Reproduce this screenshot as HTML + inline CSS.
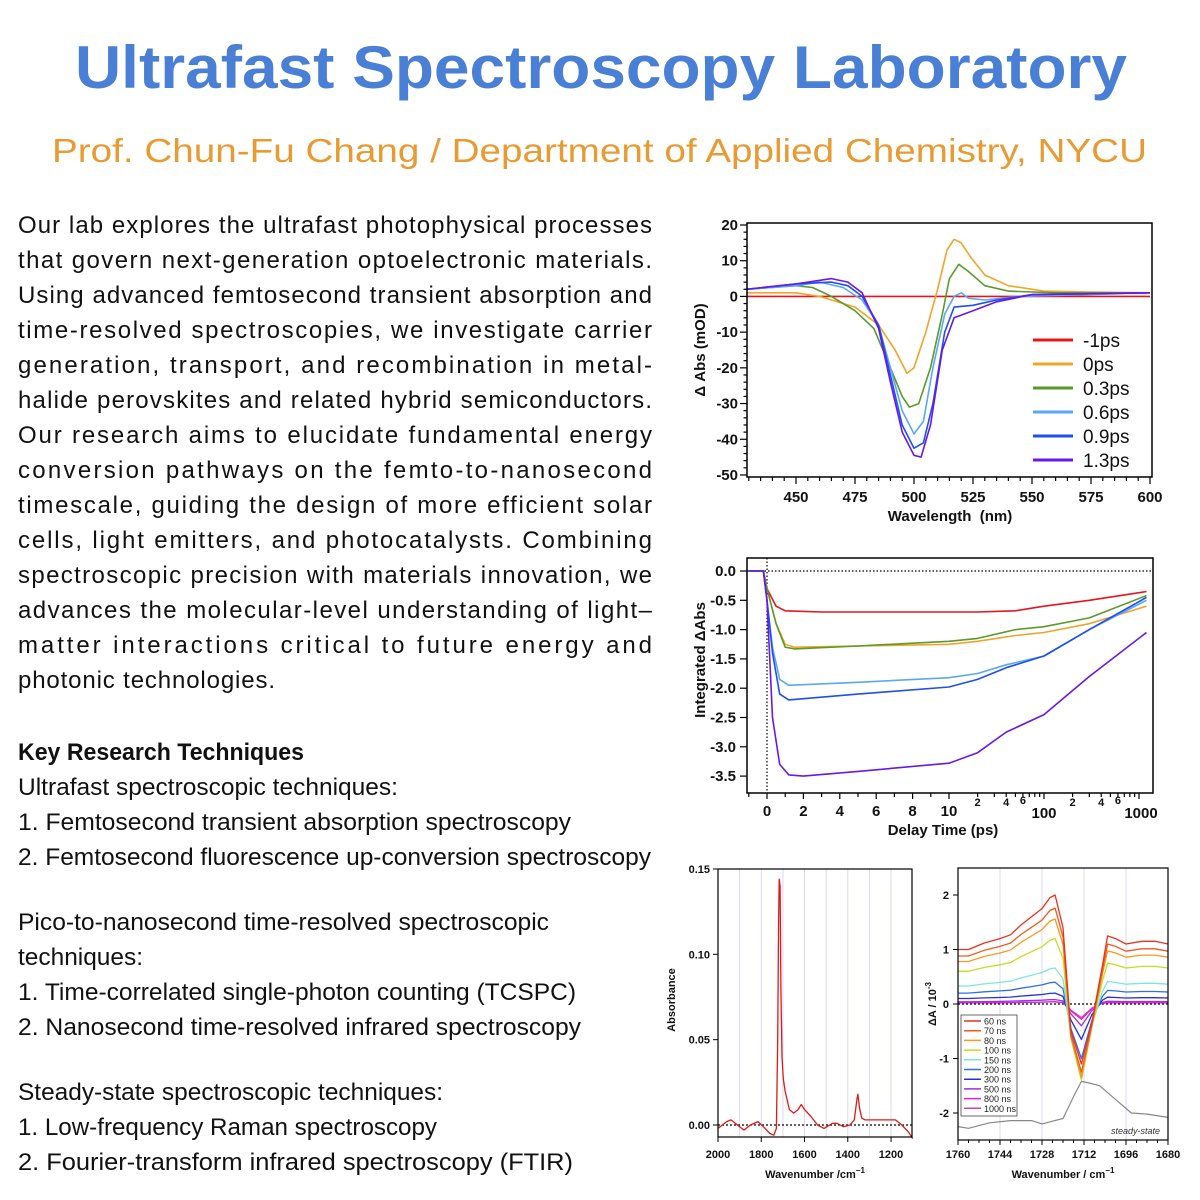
<!DOCTYPE html>
<html><head><meta charset="utf-8">
<style>
html,body{margin:0;padding:0;background:#fff;}
svg{display:block;}
.b{font-family:"Liberation Sans",Arial,sans-serif;}
</style></head>
<body>
<svg id="s" width="1200" height="1200" xmlns="http://www.w3.org/2000/svg" class="b">
<text x="75" y="88" font-size="60" font-weight="bold" fill="#4a7fd6" textLength="1052" lengthAdjust="spacingAndGlyphs">Ultrafast Spectroscopy Laboratory</text>
<text x="52" y="162" font-size="33" fill="#e89b32" textLength="1095" lengthAdjust="spacingAndGlyphs">Prof. Chun-Fu Chang / Department of Applied Chemistry, NYCU</text>
<g font-size="24" fill="#111">
<text x="18" y="233" textLength="634" lengthAdjust="spacing">Our lab explores the ultrafast photophysical processes</text>
<text x="18" y="268" textLength="634" lengthAdjust="spacing">that govern next-generation optoelectronic materials.</text>
<text x="18" y="303" textLength="634" lengthAdjust="spacing">Using advanced femtosecond transient absorption and</text>
<text x="18" y="338" textLength="634" lengthAdjust="spacing">time-resolved spectroscopies, we investigate carrier</text>
<text x="18" y="373" textLength="634" lengthAdjust="spacing">generation, transport, and recombination in metal-</text>
<text x="18" y="408" textLength="634" lengthAdjust="spacing">halide perovskites and related hybrid semiconductors.</text>
<text x="18" y="443" textLength="634" lengthAdjust="spacing">Our research aims to elucidate fundamental energy</text>
<text x="18" y="478" textLength="634" lengthAdjust="spacing">conversion pathways on the femto-to-nanosecond</text>
<text x="18" y="513" textLength="634" lengthAdjust="spacing">timescale, guiding the design of more efficient solar</text>
<text x="18" y="548" textLength="634" lengthAdjust="spacing">cells, light emitters, and photocatalysts. Combining</text>
<text x="18" y="583" textLength="634" lengthAdjust="spacing">spectroscopic precision with materials innovation, we</text>
<text x="18" y="618" textLength="634" lengthAdjust="spacing">advances the molecular-level understanding of light–</text>
<text x="18" y="653" textLength="634" lengthAdjust="spacing">matter interactions critical to future energy and</text>
<text x="18" y="688" textLength="257" lengthAdjust="spacing">photonic technologies.</text>
<text x="18" y="760" font-weight="bold" textLength="286" lengthAdjust="spacingAndGlyphs">Key Research Techniques</text>
<text x="18" y="795" textLength="380" lengthAdjust="spacingAndGlyphs">Ultrafast spectroscopic techniques:</text>
<text x="18" y="830" textLength="553" lengthAdjust="spacingAndGlyphs">1. Femtosecond transient absorption spectroscopy</text>
<text x="18" y="865" textLength="633" lengthAdjust="spacingAndGlyphs">2. Femtosecond fluorescence up-conversion spectroscopy</text>
<text x="18" y="930" textLength="531" lengthAdjust="spacingAndGlyphs">Pico-to-nanosecond time-resolved spectroscopic</text>
<text x="18" y="965" textLength="125" lengthAdjust="spacingAndGlyphs">techniques:</text>
<text x="18" y="1000" textLength="558" lengthAdjust="spacingAndGlyphs">1. Time-correlated single-photon counting (TCSPC)</text>
<text x="18" y="1035" textLength="563" lengthAdjust="spacingAndGlyphs">2. Nanosecond time-resolved infrared spectroscopy</text>
<text x="18" y="1100" textLength="425" lengthAdjust="spacingAndGlyphs">Steady-state spectroscopic techniques:</text>
<text x="18" y="1135" textLength="419" lengthAdjust="spacingAndGlyphs">1. Low-frequency Raman spectroscopy</text>
<text x="18" y="1170" textLength="555" lengthAdjust="spacingAndGlyphs">2. Fourier-transform infrared spectroscopy (FTIR)</text>
</g>
<g id="g"></g>
</svg>
<script>
var G=document.getElementById('g'),h='';
function P(pts,fx,fy,c,w,extra){var d='';pts.forEach(function(p,i){d+=(i?'L':'M')+fx(p[0]).toFixed(1)+' '+fy(p[1]).toFixed(1);});h+='<path d="'+d+'" fill="none" stroke="'+c+'" stroke-width="'+(w||1.6)+'" stroke-linejoin="round" '+(extra||'')+'/>';}
function L(x1,y1,x2,y2,c,w,extra){h+='<line x1="'+x1+'" y1="'+y1+'" x2="'+x2+'" y2="'+y2+'" stroke="'+(c||'#000')+'" stroke-width="'+(w||1)+'" '+(extra||'')+'/>';}
function T(x,y,s,fs,anc,extra){h+='<text x="'+x+'" y="'+y+'" font-size="'+fs+'" text-anchor="'+(anc||'middle')+'" '+(extra||'')+'>'+s+'</text>';}
function R(x1,y1,x2,y2,w){h+='<rect x="'+x1+'" y="'+y1+'" width="'+(x2-x1)+'" height="'+(y2-y1)+'" fill="none" stroke="#000" stroke-width="'+(w||1.5)+'"/>';}
var fx1=function(w){return 796+(w-450)*2.36;},fy1=function(v){return 225+(20-v)*3.571;};
var C=['#e8141a','#f0a42a','#5a9a2a','#5aa8f5','#1e4ef0','#6a18e8'];
var S1=[
[[429,0],[600,0]],
[[429,1],[450,1],[460,0],[475,-3],[485,-8],[492,-15],[497,-21.5],[500,-20],[505,-10],[510,2],[514,13],[517,16],[520,15],[524,11],[530,6],[540,3],[555,1.5],[575,1.2],[600,1]],
[[429,2],[450,3],[457,2.5],[465,0],[475,-4],[483,-9],[490,-20],[495,-28],[498,-31],[502,-30],[507,-20],[512,-5],[515,5],[519,9],[523,7],[530,3],[540,1.5],[560,1],[600,1]],
[[429,2],[450,3],[460,4],[470,2.5],[478,-1],[485,-8],[490,-20],[495,-32],[500,-38.5],[504,-35],[508,-20],[513,-5],[517,0],[520,1],[523,-0.5],[530,-1],[545,0],[600,1]],
[[429,2],[450,3.5],[465,4],[472,3],[478,0],[485,-8],[490,-22],[495,-36],[500,-42.5],[504,-41],[508,-30],[513,-10],[517,-3],[525,-2.5],[535,-1],[550,0.5],[600,1]],
[[429,2],[450,3.5],[465,5],[472,4],[478,1],[485,-9],[490,-24],[495,-38],[500,-44.5],[503,-45],[507,-36],[512,-15],[517,-6],[525,-4],[535,-1.5],[550,0.5],[600,1]]];
S1.forEach(function(s,i){P(s,fx1,fy1,C[i],1.6);});
R(747,223,1152,477);
h+='<g font-weight="bold" fill="#111">';
for(var v=-50;v<=20;v+=2){var y=fy1(v);L(747,y,v%10==0?740:743.5,y,'#000',1.2);}
for(v=-50;v<=20;v+=10)T(738,fy1(v)+5,v,15,'end');
for(var w=430;w<=600;w+=5){var x=fx1(w);L(x,477,x,w%25==0?484:481,'#000',1.2);}
for(w=450;w<=600;w+=25)T(fx1(w),502,w,15);
T(950,521,'Wavelength&#160;&#160;(nm)',15);
T(0,0,'Δ Abs (mOD)',15,'middle','transform="translate(705,350) rotate(-90)"');
var lab=['-1ps','0ps','0.3ps','0.6ps','0.9ps','1.3ps'];
h+='</g>';
lab.forEach(function(l,i){var y=340+24*i;L(1033,y,1073,y,C[i],3);T(1083,y+7,l,19,'start','fill="#111"');});
var fx2=function(t){return t<=10?767+18.2*t:949+95*Math.log10(t/10);},fy2=function(v){return 571-58.6*v;};
var S2=[
[[-1,0],[-0.2,0],[0,-0.3],[0.5,-0.6],[1,-0.68],[3,-0.7],[10,-0.7],[20,-0.7],[50,-0.68],[100,-0.6],[300,-0.5],[1200,-0.35]],
[[-1,0],[-0.2,0],[0,-0.3],[0.5,-0.9],[1,-1.25],[1.5,-1.3],[5,-1.28],[10,-1.25],[20,-1.2],[50,-1.1],[100,-1.05],[300,-0.9],[1200,-0.6]],
[[-1,0],[-0.2,0],[0,-0.3],[0.5,-0.9],[1,-1.3],[1.5,-1.33],[5,-1.28],[10,-1.2],[20,-1.15],[50,-1.0],[100,-0.95],[300,-0.8],[1200,-0.42]],
[[-1,0],[-0.2,0],[0,-0.5],[0.3,-1.3],[0.7,-1.85],[1.2,-1.95],[5,-1.9],[10,-1.82],[20,-1.75],[40,-1.6],[100,-1.45],[300,-1.0],[1200,-0.5]],
[[-1,0],[-0.2,0],[0,-0.5],[0.3,-1.4],[0.7,-2.1],[1.2,-2.2],[5,-2.1],[10,-1.98],[20,-1.85],[40,-1.65],[100,-1.45],[300,-1.0],[1200,-0.45]],
[[-1,0],[-0.2,0],[0,-0.5],[0.3,-2.5],[0.7,-3.3],[1.2,-3.48],[2,-3.5],[5,-3.42],[10,-3.28],[20,-3.1],[40,-2.75],[100,-2.45],[300,-1.8],[1200,-1.05]]];
L(747,571,1153,571,'#000',1.2,'stroke-dasharray="1.5,2"');
L(767,558,767,793,'#000',1.2,'stroke-dasharray="1.5,2"');
S2.forEach(function(s,i){P(s,fx2,fy2,C[i],1.6);});
R(747,558,1153,793);
h+='<g font-weight="bold" fill="#111">';
for(v=0;v>=-3.5;v-=0.5){var y=fy2(v);L(747,y,740,y,'#000',1.2);T(736,y+5,v.toFixed(1),15,'end');}
for(var t=-1;t<=10;t++){var x=fx2(t);L(x,793,x,t%2==0?799:797,'#000',1.2);}
for(t=0;t<=10;t+=2)T(fx2(t),816,t,15);
[20,30,40,50,60,70,80,90,100,200,300,400,500,600,700,800,900,1000].forEach(function(t){var x=fx2(t);L(x,793,x,(t==100||t==1000)?799:797,'#000',1.2);});
T(fx2(20),806,'2',11);T(fx2(40),806,'4',11);T(fx2(60),804,'6',11);T(fx2(200),806,'2',11);T(fx2(400),806,'4',11);T(fx2(600),804,'6',11);
T(fx2(100),818,'100',15);T(fx2(1000)+2,818,'1000',15);
T(943,835,'Delay Time (ps)',15);
T(0,0,'Integrated ΔAbs',15,'middle','transform="translate(705,660) rotate(-90)"');
h+='</g>';
var fx3=function(w){return 718+(2000-w)*0.2163;},fy3=function(a){return 1125-a*256/0.15;};
[1900,1800,1700,1600,1500,1400,1300,1200].forEach(function(w){L(fx3(w),869,fx3(w),1137,'#d8d8f4',1);});
L(718,1125,912,1125,'#000',1.2,'stroke-dasharray="2,2"');
var S3=[[2000,-0.002],[1960,0.002],[1940,0.003],[1920,0.001],[1880,-0.003],[1850,0],[1815,0.002],[1790,-0.001],[1760,-0.005],[1742,-0.006],[1730,-0.002],[1724,0.05],[1720,0.12],[1717,0.144],[1713,0.14],[1709,0.08],[1704,0.04],[1698,0.027],[1690,0.02],[1670,0.009],[1650,0.007],[1630,0.009],[1615,0.012],[1600,0.009],[1570,0.005],[1540,0],[1510,-0.002],[1470,0.001],[1450,0.001],[1420,-0.001],[1390,0],[1370,0.003],[1358,0.015],[1353,0.018],[1346,0.01],[1335,0.004],[1320,0.003],[1250,0.003],[1180,0.003],[1150,0],[1120,-0.004],[1100,-0.008]];
P(S3,fx3,fy3,'#e01818',1.3);
R(718,869,912,1137,1.2);
h+='<g font-weight="bold" fill="#111">';
[0,0.05,0.1,0.15].forEach(function(a){var y=fy3(a);L(718,y,713,y);T(710,y+4,a.toFixed(2),11,'end');});
[2000,1800,1600,1400,1200].forEach(function(w){var x=fx3(w);L(x,1137,x,1142);T(x,1158,w,11);});
T(815,1178,'Wavenumber /cm<tspan dy="-5" font-size="8">−1</tspan>',11);
T(0,0,'Absorbance',11,'middle','transform="translate(675,1000) rotate(-90)"');
h+='</g>';
var fx4=function(w){return 958+(1760-w)*2.625;},fy4=function(v){return 1004-v*54.5;};
[1744,1728,1712,1696].forEach(function(w){L(fx4(w),868,fx4(w),1140,'#d8d8f4',1);});
L(958,1004,1168,1004,'#000',1.2,'stroke-dasharray="2,2"');
var X=[1760,1756,1750,1744,1740,1736,1732,1728,1725,1723,1720,1717,1713,1709,1705,1703,1700,1696,1690,1685,1680];
var PP=[1.0,1.0,1.12,1.2,1.27,1.45,1.6,1.75,1.95,2.0,1.4,0,0,0,0.7,1.25,1.2,1.1,1.15,1.15,1.1];
var DD=[0,0,0,0,0,0,0,0,0,0,0,0.45,1,0.3,0,0,0,0,0,0,0];
var F=[1,0.88,0.78,0.6,0.33,0.2,0.1,0.04,0.02,0.02],Dv=[1.1,1.25,1.35,1.4,1.3,1.0,0.65,0.4,0.28,0.25];
var C4=['#e8321e','#f05a1e','#f59a20','#c0e020','#7ae8d8','#2d6fe8','#2030e0','#9b30f0','#e020e0','#e0409a'];
var G4=[[1760,-2.25],[1756,-2.28],[1748,-2.18],[1740,-2.14],[1732,-2.14],[1728,-2.2],[1724,-2.15],[1720,-2.1],[1716,-1.7],[1713,-1.42],[1710,-1.45],[1706,-1.5],[1700,-1.75],[1694,-2.0],[1688,-2.02],[1680,-2.08]];
P(G4,fx4,fy4,'#888',1.2);
for(var k=9;k>=0;k--){var pts=X.map(function(x,i){return [x,F[k]*PP[i]-Dv[k]*DD[i]];});P(pts,fx4,fy4,C4[k],1.3);}
R(958,868,1168,1140,1.2);
h+='<rect x="961" y="1015" width="56" height="101" fill="#fff" stroke="#444" stroke-width="0.8"/>';
var l4=['60 ns','70 ns','80 ns','100 ns','150 ns','200 ns','300 ns','500 ns','800 ns','1000 ns'];
l4.forEach(function(l,i){var y=1021+9.7*i;L(964,y,981,y,C4[i],1.5);T(984,y+3.5,l,9,'start','fill="#222"');});
T(1160,1134,'steady-state',9,'end','fill="#333" font-style="italic"');
h+='<g font-weight="bold" fill="#111">';
[2,1,0,-1,-2].forEach(function(v){var y=fy4(v);L(958,y,953,y);T(949,y+4,v,11,'end');});
for(var w=1760;w>=1680;w-=4){var x=fx4(w);L(x,1140,x,w%16==0?1145:1143);}
[1760,1744,1728,1712,1696,1680].forEach(function(w){T(fx4(w),1158,w,11);});
T(1063,1178,'Wavenumber / cm<tspan dy="-5" font-size="8">−1</tspan>',11);
T(0,0,'ΔA / 10<tspan dy="-5" font-size="8">-3</tspan>',11,'middle','transform="translate(936,1004) rotate(-90)"');
h+='</g>';
G.innerHTML=h;
</script>
</body></html>
